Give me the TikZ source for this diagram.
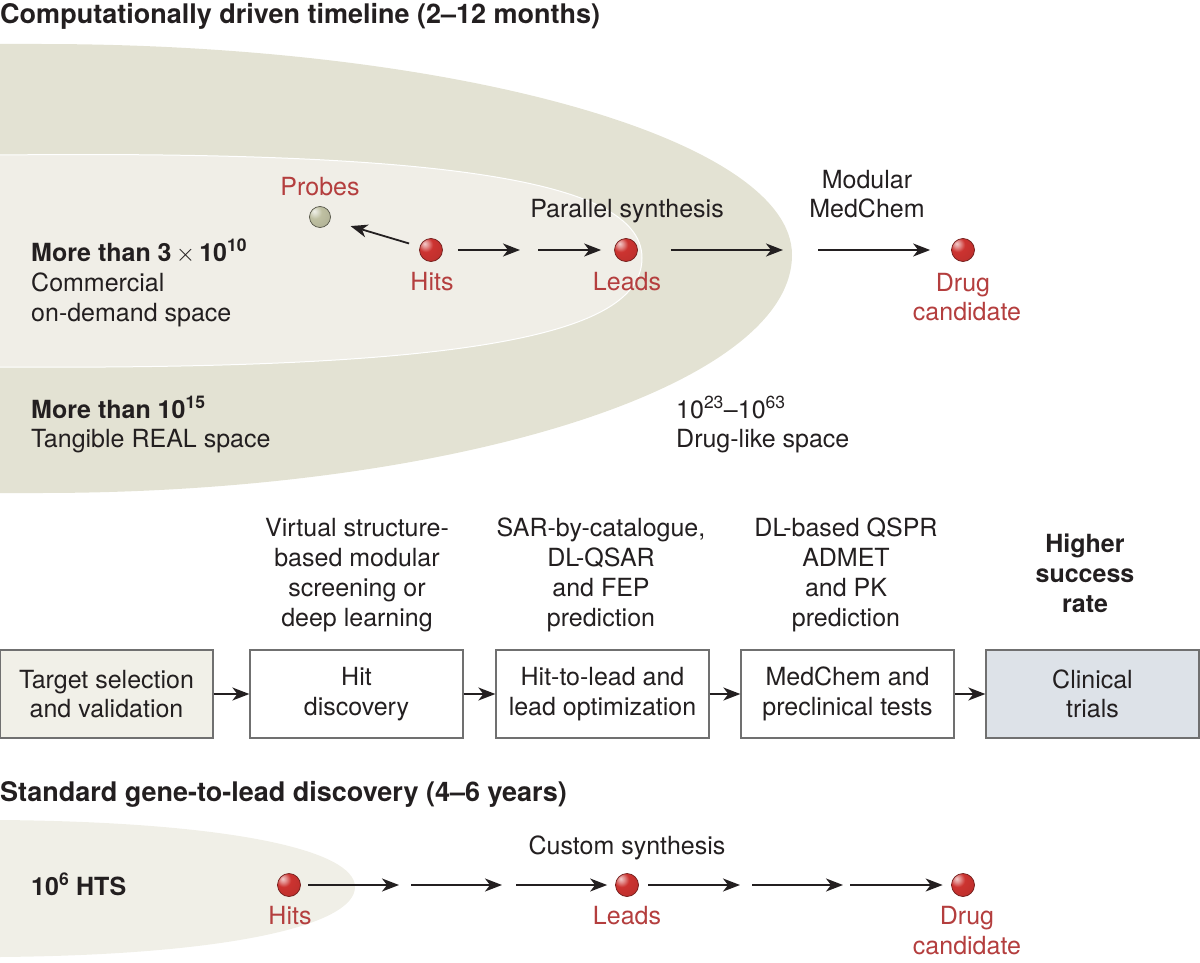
\documentclass[tikz,border=0pt]{standalone}
\usepackage{fontspec}
\setmainfont{TeX Gyre Heros}
\usetikzlibrary{arrows.meta}
\definecolor{txt}{HTML}{231F20}
\definecolor{redt}{HTML}{B43E3E}
\definecolor{outerc}{HTML}{E3E2D3}
\definecolor{innerc}{HTML}{F0EEE7}
\definecolor{botc}{HTML}{F0EFE7}
\definecolor{boxonec}{HTML}{F1F0E8}
\definecolor{boxfivec}{HTML}{DDE2E8}
\definecolor{ballr}{HTML}{CC3330}
\definecolor{ballg}{HTML}{BFC0A2}
\definecolor{boxline}{HTML}{707070}
\pgfdeclareradialshading{redball}{\pgfpoint{-14bp}{14bp}}{%
  color(0bp)=(ballr!25!white); color(7bp)=(ballr!55!white); color(16bp)=(ballr);
  color(40bp)=(ballr!92!black); color(62bp)=(ballr!70!black); color(100bp)=(ballr!70!black)}
\pgfdeclareradialshading{greyball}{\pgfpoint{-14bp}{14bp}}{%
  color(0bp)=(ballg!25!white); color(7bp)=(ballg!55!white); color(16bp)=(ballg);
  color(40bp)=(ballg!92!black); color(62bp)=(ballg!75!black); color(100bp)=(ballg!75!black)}
\begin{document}
\begin{tikzpicture}[x=1pt,y=-1pt,
  every node/.style={text=txt},
  t/.style={inner sep=0pt, text height=18pt, text depth=0pt, font=\fontsize{25}{30}\selectfont},
  tb/.style={t, font=\fontsize{25}{30}\selectfont\bfseries},
  tr/.style={t, text=redt},
  ttl/.style={inner sep=0pt, anchor=west, text height=19pt, text depth=0pt, font=\fontsize{27}{30}\selectfont\bfseries},
  dot/.style={circle, minimum size=23pt, inner sep=0pt, shading=redball, draw=ballr!55!black, line width=0.7pt},
  pdot/.style={dot, shading=greyball, draw=ballg!45!black, minimum size=21pt},
  arr/.style={line width=1.8pt, draw=txt, -{Stealth[length=17pt,width=13pt,inset=5pt]}},
  stage/.style={draw=boxline, line width=1.3pt, minimum width=213pt, minimum height=88pt, inner sep=0pt, align=center, font=\fontsize{25}{29.5}\selectfont},
]
\useasboundingbox (0,0) rectangle (1200,963);
\begin{scope}
\clip (0,0) rectangle (1200,963);
\fill[outerc] (-5,44) -- (40,44) .. controls (455,44) and (792,139) .. (792,255) .. controls (792,386) and (455,493) .. (40,493) -- (-5,493) -- cycle;
\filldraw[fill=innerc, draw=white, line width=1pt] (-5,155) -- (0,155) .. controls (470,150) and (642,185) .. (642,258) .. controls (642,335) and (470,370) .. (0,367) -- (-5,367) -- cycle;
\fill[botc] (-5,820) -- (0,820) .. controls (230,822) and (355,850) .. (355,887) .. controls (355,925) and (230,955) .. (0,957) -- (-5,957) -- cycle;
\end{scope}

% titles
\node[ttl] (title1) at (0,14) {Computationally driven timeline (2–12 months)};
\node[ttl] (title2) at (0,792) {Standard gene-to-lead discovery (4–6 years)};

% space labels
\node[tb, anchor=west] (cm1) at (31,252) {More than 3$\,\times\,$10\textsuperscript{10}};
\node[t, anchor=west] (cm2) at (31,282) {Commercial};
\node[t, anchor=west] (cm3) at (31,312) {on-demand space};
\node[tb, anchor=west] (re1) at (31,409) {More than 10\textsuperscript{15}};
\node[t, anchor=west] (re2) at (31,438) {Tangible REAL space};
\node[t, anchor=west] (dl1) at (676,409) {10\textsuperscript{23}–10\textsuperscript{63}};
\node[t, anchor=west] (dl2) at (676,438) {Drug-like space};

% top pipeline
\node[pdot] (probe) at (320,217) {};
\node[dot] (hits) at (431,250) {};
\node[dot] (leads) at (626,250) {};
\node[dot] (drug) at (963,250) {};
\node[tr] (lprobe) at (320,186) {Probes};
\node[tr] (lhits) at (432,281) {Hits};
\node[t] (lpar) at (627,209) {Parallel synthesis};
\node[tr] (lleads) at (627,281) {Leads};
\node[t] (lmodA) at (867,180) {Modular};
\node[t] (lmodB) at (867,209) {MedChem};
\node[tr] (ldrugA) at (963,282) {Drug};
\node[tr] (ldrugB) at (967,311) {candidate};
\coordinate (aoneE) at (520,250);
\coordinate (atwoS) at (538,250);
\coordinate (athreeE) at (783,250);
\coordinate (afourS) at (818,250);
\draw[arr, shorten <=11pt, shorten >=21pt] (hits) -- (probe);
\draw[arr, shorten <=15pt] (hits) -- (aoneE);
\draw[arr, shorten >=13pt] (atwoS) -- (leads);
\draw[arr, shorten <=33pt] (leads) -- (athreeE);
\draw[arr, shorten >=21pt] (afourS) -- (drug);

% method texts
\node[t] (cAa) at (357,527) {Virtual structure-};
\node[t] (cAb) at (357,557) {based modular};
\node[t] (cAc) at (357,587) {screening or};
\node[t] (cAd) at (357,617) {deep learning};
\node[t] (cBa) at (601,527) {SAR-by-catalogue,};
\node[t] (cBb) at (601,557) {DL-QSAR};
\node[t] (cBc) at (601,587) {and FEP};
\node[t] (cBd) at (601,617) {prediction};
\node[t] (cCa) at (846,527) {DL-based QSPR};
\node[t] (cCb) at (846,557) {ADMET};
\node[t] (cCc) at (846,587) {and PK};
\node[t] (cCd) at (846,617) {prediction};
\node[tb] (cDa) at (1085,543) {Higher};
\node[tb] (cDb) at (1085,573) {success};
\node[tb] (cDc) at (1085,603) {rate};

% stages
\node[stage, fill=boxonec] (s1) at (106.5,694) {Target selection\\and validation};
\node[stage, fill=white] (s2) at (356.5,694) {Hit\\discovery};
\node[stage, fill=white] (s3) at (602.5,694) {Hit-to-lead and\\lead optimization};
\node[stage, fill=white] (s4) at (847.5,694) {MedChem and\\preclinical tests};
\node[stage, fill=boxfivec] (s5) at (1092.5,694) {Clinical\\trials};
\draw[arr] (s1) -- (s2);
\draw[arr] (s2) -- (s3);
\draw[arr] (s3) -- (s4);
\draw[arr] (s4) -- (s5);

% bottom pipeline
\node[tb, anchor=west] (hts) at (31,886) {10\textsuperscript{6} HTS};
\node[dot] (bhits) at (289,885) {};
\node[dot] (bleads) at (627,885) {};
\node[dot] (bdrug) at (963,885) {};
\node[tr] (lbhits) at (290,915) {Hits};
\node[tr] (lbleads) at (627,915) {Leads};
\node[tr] (lbdrugA) at (967,915) {Drug};
\node[tr] (lbdrugB) at (967,945) {candidate};
\node[t] (lcustom) at (627,845) {Custom synthesis};
\coordinate (boneE) at (399,885);
\coordinate (btwoS) at (411,885);
\coordinate (btwoE) at (502,885);
\coordinate (bthreeS) at (516,885);
\coordinate (bfourE) at (740,885);
\coordinate (bfiveS) at (752,885);
\coordinate (bfiveE) at (843,885);
\coordinate (bsixS) at (850,885);
\draw[arr, shorten <=7.5pt] (bhits) -- (boneE);
\draw[arr] (btwoS) -- (btwoE);
\draw[arr, shorten >=8pt] (bthreeS) -- (bleads);
\draw[arr, shorten <=9.5pt] (bleads) -- (bfourE);
\draw[arr] (bfiveS) -- (bfiveE);
\draw[arr, shorten >=8.5pt] (bsixS) -- (bdrug);
\end{tikzpicture}
\end{document}
